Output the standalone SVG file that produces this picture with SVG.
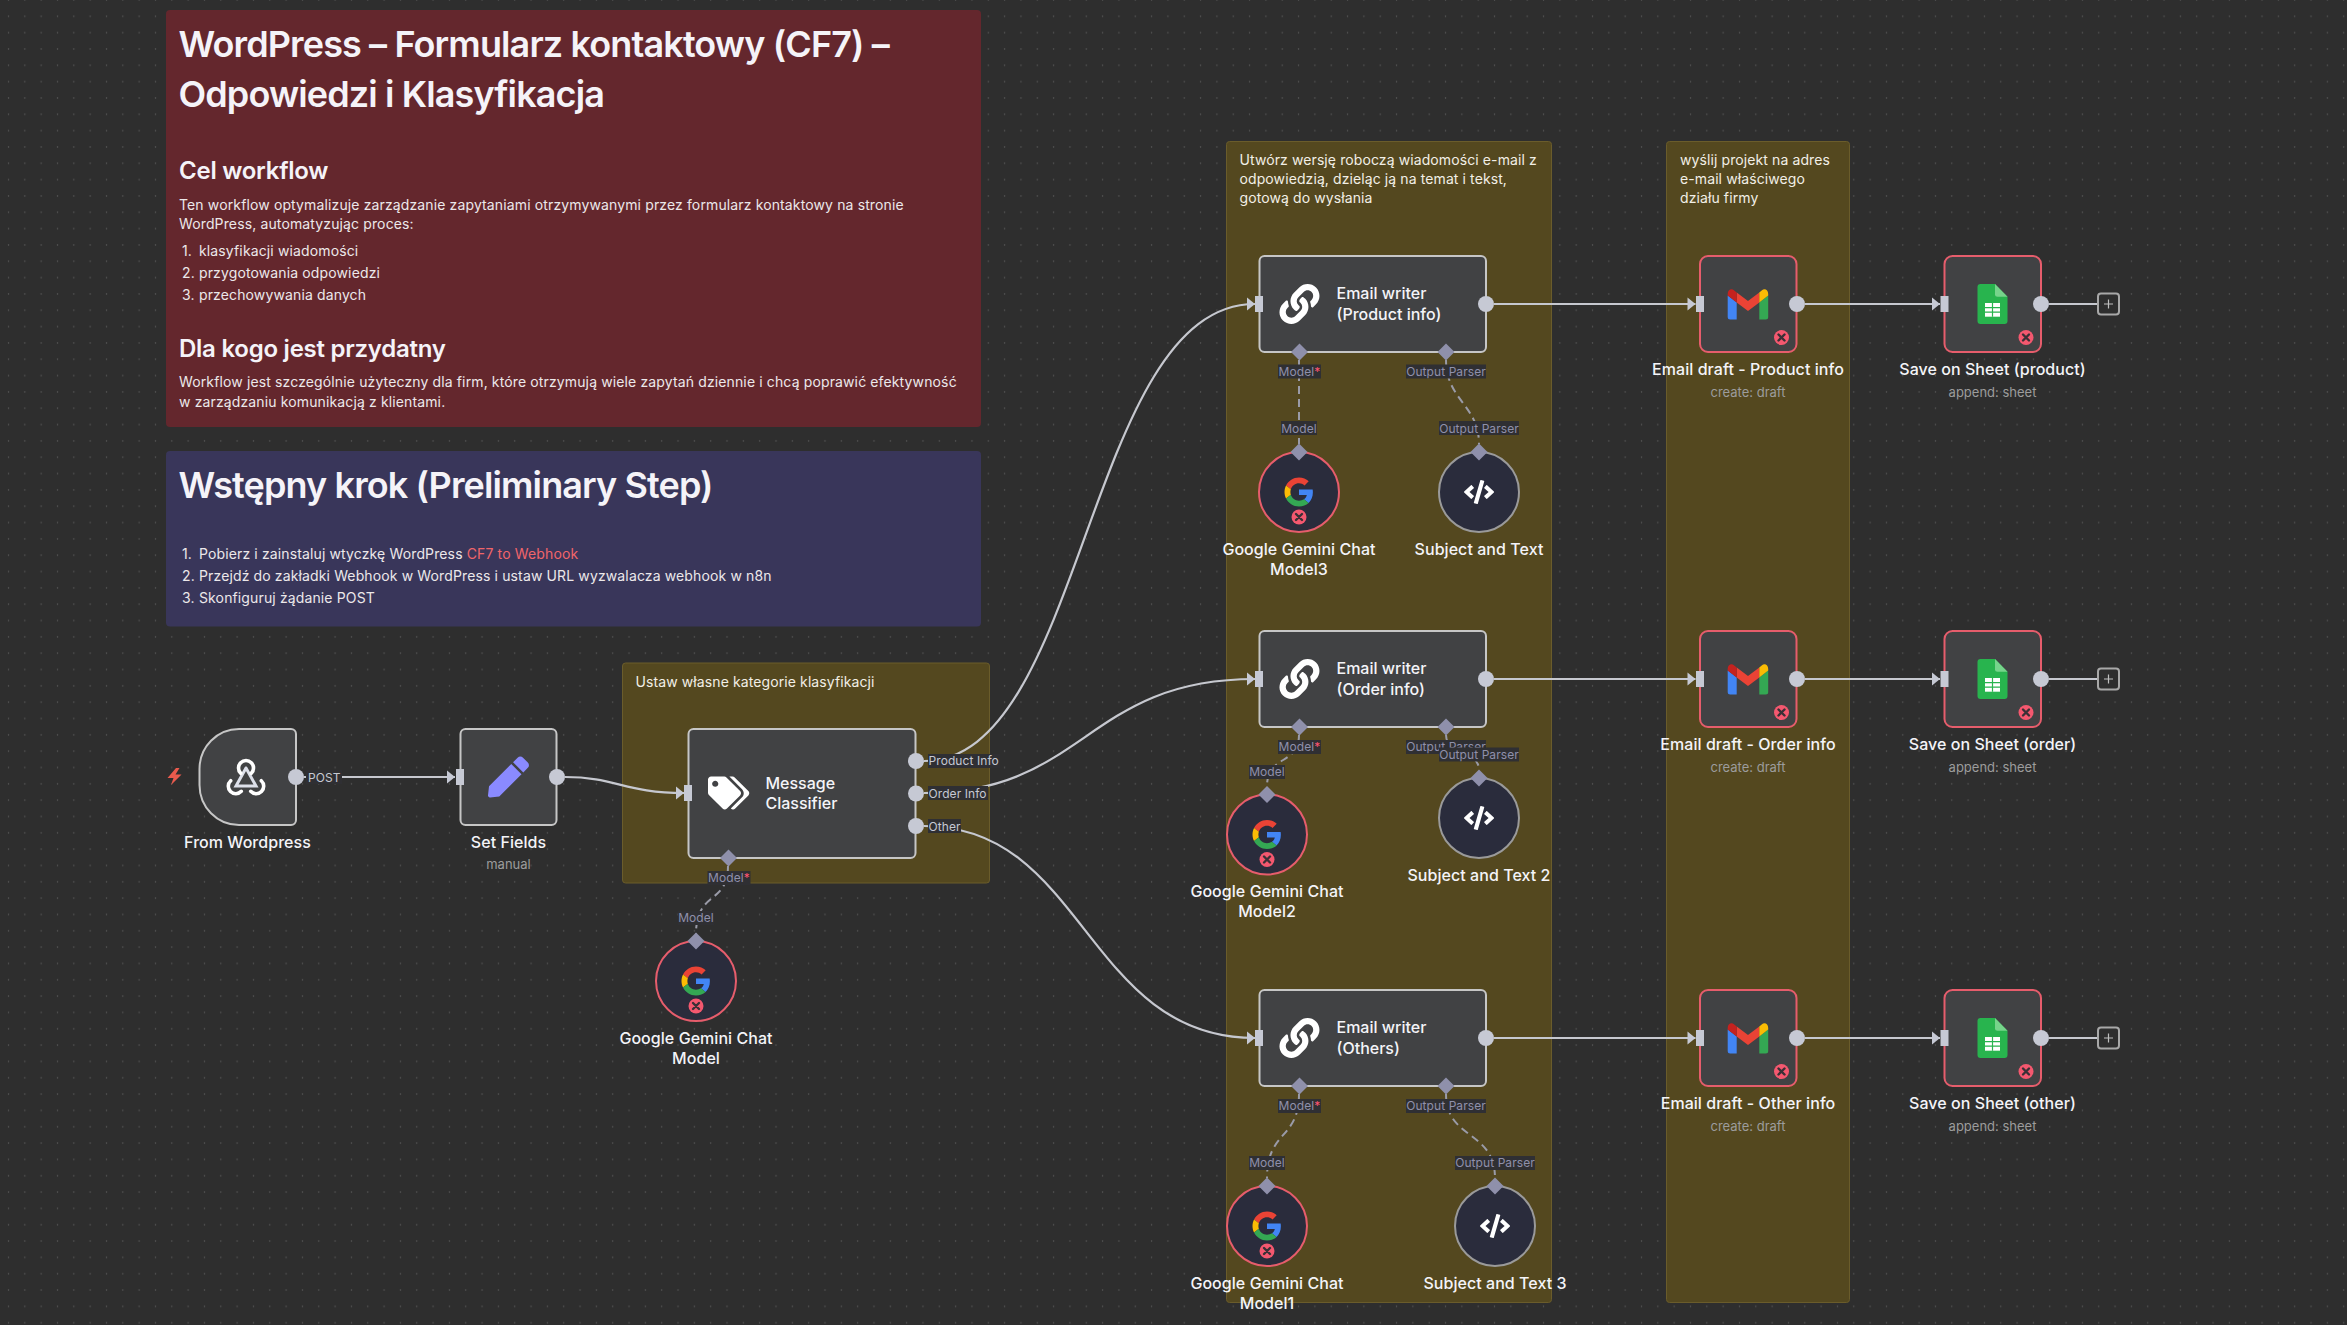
<svg xmlns="http://www.w3.org/2000/svg" width="2347" height="1325" viewBox="0 0 2347 1325">
<style>
text{font-family:"Inter","Liberation Sans",sans-serif}
.h1{font-size:36px;font-weight:600;fill:#f5f3f8;letter-spacing:-.88px}
.h2{font-size:24px;font-weight:600;fill:#f5f3f8;letter-spacing:-.25px}
.b{font-size:14px;fill:#ece8ea;letter-spacing:.13px}
.s{font-size:14px;fill:#f2efe6;letter-spacing:.1px}
.link{fill:#f0656a}
.note-red{fill:#64272d}
.note-purple{fill:#39365a}
.sticky{fill:#54481f;stroke:#6a5c2b;stroke-width:1}
.node{fill:#414244;stroke:#c6c6c6;stroke-width:2}
.node.err{stroke:#e65d6c}
.sub{fill:#2a2c3c;stroke:#9a9a9a;stroke-width:2}
.sub.err{stroke:#e65d6c}
.title{font-size:16px;font-weight:500;fill:#f4f4f8}
.nm{font-size:16px;font-weight:500;fill:#f4f4f8;text-anchor:middle;letter-spacing:.05px}
.sb{font-size:13px;fill:#9c9c9c;text-anchor:middle}
.wire{fill:none;stroke:#c6c8cf;stroke-width:2.2}
.dash{fill:none;stroke:#9a9ba8;stroke-width:2;stroke-dasharray:8 5}
.lbg{fill:#2f2f33}
.l{font-size:12px;fill:#c6c9d4;letter-spacing:.08px}
.lm{font-size:12px;fill:#8f90ab;text-anchor:middle;letter-spacing:.08px}
.red{fill:#ff5470}
.port{fill:#c6c9d4}
.dia{fill:#8f90ab}
.plus{fill:#2e2e2e;stroke:#a8a8a8;stroke-width:2}
</style>
<defs>
<pattern id="dots" width="16.33" height="16.33" patternUnits="userSpaceOnUse" x="0.3" y="0"><circle cx="8.2" cy="16.2" r="0.65" fill="#5f5f5f"/><circle cx="8.2" cy="0.1" r="0.65" fill="#5f5f5f"/></pattern>
<marker id="arrow" markerUnits="userSpaceOnUse" markerWidth="9" markerHeight="14" viewBox="0 0 9 14" refX="8.5" refY="7" orient="auto"><path d="M0.5 0.5 L8.5 7 L0.5 13.5 Z" fill="#c6c9d4"/></marker>
<rect id="in" x="-4" y="-8" width="8" height="16" class="port"/>
<circle id="out" r="8" class="port"/>
<polygon id="dm" points="0,-8.5 8.5,0 0,8.5 -8.5,0" class="dia"/>
<g id="x"><circle r="7.5" fill="#f4586f"/><path d="M-3 -3 L3 3 M3 -3 L-3 3" stroke="#3a3036" stroke-width="2.4" stroke-linecap="round"/></g>
<path id="i-link" transform="translate(-20 -20) scale(.0781)" fill="#fff" d="M326.612 185.391c59.747 59.809 58.927 155.698.36 214.59-.11.12-.24.25-.36.37l-67.2 67.2c-59.27 59.27-155.699 59.262-214.96 0-59.27-59.26-59.27-155.7 0-214.96l37.106-37.106c9.84-9.84 26.786-3.3 27.294 10.606.648 17.722 3.826 35.527 9.69 52.721 1.986 5.822.567 12.262-3.783 16.612l-13.087 13.087c-28.026 28.026-28.905 73.66-1.155 101.96 28.024 28.579 74.086 28.749 102.325.51l67.2-67.19c28.191-28.191 28.073-73.757 0-101.83-3.701-3.694-7.429-6.564-10.341-8.569a16.037 16.037 0 0 1-6.947-12.606c-.396-10.567 3.348-21.456 11.698-29.806l21.054-21.055c5.521-5.521 14.182-6.199 20.584-1.731a152.482 152.482 0 0 1 20.522 17.197zM467.547 44.449c-59.261-59.262-155.69-59.27-214.96 0l-67.2 67.2c-.12.12-.25.25-.36.37-58.566 58.892-59.387 154.781.36 214.59a152.454 152.454 0 0 0 20.521 17.196c6.402 4.468 15.064 3.789 20.584-1.731l21.054-21.055c8.35-8.35 12.094-19.239 11.698-29.806a16.037 16.037 0 0 0-6.947-12.606c-2.912-2.005-6.64-4.875-10.341-8.569-28.073-28.073-28.191-73.639 0-101.83l67.2-67.19c28.239-28.239 74.3-28.069 102.325.51 27.75 28.3 26.872 73.934-1.155 101.96l-13.087 13.087c-4.35 4.35-5.769 10.79-3.783 16.612 5.864 17.194 9.042 34.999 9.69 52.721.509 13.906 17.454 20.446 27.294 10.606l37.106-37.106c59.271-59.259 59.271-155.699.001-214.959z"/>
<g id="i-g" transform="translate(-14.5 -14.5) scale(.604)"><path fill="#EA4335" d="M24 9.5c3.54 0 6.71 1.22 9.21 3.6l6.85-6.85C35.9 2.38 30.47 0 24 0 14.62 0 6.51 5.38 2.56 13.22l7.98 6.19C12.43 13.72 17.74 9.5 24 9.5z"/><path fill="#4285F4" d="M46.98 24.55c0-1.57-.15-3.09-.38-4.55H24v9.02h12.94c-.58 2.96-2.26 5.48-4.78 7.18l7.73 6c4.51-4.18 7.09-10.36 7.09-17.65z"/><path fill="#FBBC05" d="M10.53 28.59c-.48-1.45-.76-2.99-.76-4.59s.27-3.14.76-4.59l-7.98-6.19C.92 16.46 0 20.12 0 24c0 3.88.92 7.54 2.56 10.78l7.97-6.19z"/><path fill="#34A853" d="M24 48c6.48 0 11.93-2.13 15.89-5.81l-7.73-6c-2.15 1.45-4.92 2.3-8.16 2.3-6.26 0-11.57-4.22-13.47-9.91l-7.98 6.19C6.51 42.62 14.62 48 24 48z"/></g>
<path id="i-code" transform="translate(-15 -12) scale(.047)" fill="#fff" d="M278.9 511.5l-61-17.7c-6.4-1.8-10-8.5-8.2-14.9L346.2 8.7c1.8-6.4 8.5-10.1 14.9-8.2l61 17.7c6.4 1.8 10 8.5 8.2 14.9L293.8 503.3c-1.9 6.4-8.5 10.1-14.9 8.2zm-114-112.2l43.5-46.4c4.6-4.9 4.3-12.7-.8-17.2L117 256l90.6-79.7c5.1-4.5 5.5-12.3.8-17.2l-43.5-46.4c-4.5-4.8-12.1-5.1-17-.5L3.8 247.2c-5.1 4.7-5.1 12.8 0 17.5l144.1 135.1c4.9 4.6 12.5 4.4 17-.5zm327.2.6l144.1-135.1c5.1-4.7 5.1-12.8 0-17.5L492.1 112.1c-4.8-4.5-12.4-4.3-17 .5L431.6 159c-4.6 4.9-4.3 12.7.8 17.2L523 256l-90.6 79.7c-5.1 4.5-5.5 12.3-.8 17.2l43.5 46.4c4.5 4.9 12.1 5.1 17 .6z"/>
<g id="i-gmail" transform="translate(-20.3 -15.5)"><path fill="#4285F4" d="M0 7V28.5a2.5 2.5 0 0 0 2.5 2.5H9V14Z"/><path fill="#34A853" d="M31.6 14V31H38a2.5 2.5 0 0 0 2.5-2.5V7Z"/><path fill="#EA4335" d="M9 4 20.3 12.4 31.6 4V14L20.3 22.4 9 14Z"/><path fill="#C5221F" d="M0 7 9 14V4L6.5 2C3.5 -.6 0 1.6 0 5.5Z"/><path fill="#FBBC04" d="M31.6 14 40.5 7V5.5C40.5 1.6 37 -.6 34 2L31.6 4Z"/></g>
<g id="i-sheet" transform="translate(-15 -20)"><path fill="#28B44E" d="M3 0H17.500L30 12.700V37a3 3 0 0 1-3 3H3a3 3 0 0 1-3-3V3a3 3 0 0 1 3-3Z"/><path fill="#76D48B" d="M17.500 0 30 12.700H20a2.500 2.500 0 0 1-2.500-2.500Z"/><path fill="#fff" d="M7.500 19H22.500V32.700H7.500Z"/><path stroke="#28B44E" stroke-width="1.200" d="M7.500 23.600H22.500M7.500 28.200H22.500M15 19V32.700"/></g>
</defs>

<rect width="2347" height="1325" fill="#2e2e2e"/>
<rect width="2347" height="1325" fill="url(#dots)"/>

<g id="note-main">
<rect class="note-red" x="166" y="10" width="815" height="417" rx="4"/>
<text class="h1" x="178.500" y="57">WordPress – Formularz kontaktowy (CF7) –</text>
<text class="h1" x="178.500" y="107">Odpowiedzi i Klasyfikacja</text>
<text class="h2" x="179" y="179">Cel workflow</text>
<text class="b" x="179" y="209.500">Ten workflow optymalizuje zarządzanie zapytaniami otrzymywanymi przez formularz kontaktowy na stronie</text>
<text class="b" x="179" y="229">WordPress, automatyzując proces:</text>
<text class="b" x="182" y="256">1.</text><text class="b" x="199" y="256">klasyfikacji wiadomości</text>
<text class="b" x="182" y="278">2.</text><text class="b" x="199" y="278">przygotowania odpowiedzi</text>
<text class="b" x="182" y="300">3.</text><text class="b" x="199" y="300">przechowywania danych</text>
<text class="h2" x="179" y="357">Dla kogo jest przydatny</text>
<text class="b" x="179" y="387">Workflow jest szczególnie użyteczny dla firm, które otrzymują wiele zapytań dziennie i chcą poprawić efektywność</text>
<text class="b" x="179" y="407">w zarządzaniu komunikacją z klientami.</text>
</g>
<g id="note-prelim">
<rect class="note-purple" x="166" y="451" width="815" height="175.500" rx="4"/>
<text class="h1" x="178.500" y="497.500">Wstępny krok (Preliminary Step)</text>
<text class="b" x="182" y="558.500">1.</text><text class="b" x="199" y="558.500">Pobierz i zainstaluj wtyczkę WordPress <tspan class="link">CF7 to Webhook</tspan></text>
<text class="b" x="182" y="580.500">2.</text><text class="b" x="199" y="580.500">Przejdź do zakładki Webhook w WordPress i ustaw URL wyzwalacza webhook w n8n</text>
<text class="b" x="182" y="602.500">3.</text><text class="b" x="199" y="602.500">Skonfiguruj żądanie POST</text>
</g>
<g id="sticky-classify">
<rect class="sticky" x="622.500" y="663" width="367" height="220" rx="3"/>
<text class="s" x="635.500" y="686.500">Ustaw własne kategorie klasyfikacji</text>
</g>
<g id="sticky-writer">
<rect class="sticky" x="1226.500" y="141.500" width="325" height="1161" rx="3"/>
<text class="s" x="1239.500" y="165">Utwórz wersję roboczą wiadomości e-mail z</text>
<text class="s" x="1239.500" y="184">odpowiedzią, dzieląc ją na temat i tekst,</text>
<text class="s" x="1239.500" y="203">gotową do wysłania</text>
</g>
<g id="sticky-send">
<rect class="sticky" x="1666.500" y="141.500" width="183" height="1161" rx="3"/>
<text class="s" x="1680" y="165">wyślij projekt na adres</text>
<text class="s" x="1680" y="184">e-mail właściwego</text>
<text class="s" x="1680" y="203">działu firmy</text>
</g>

<g id="connectors">
<path class="wire" marker-end="url(#arrow)" d="M304 777H455"/>
<path class="wire" marker-end="url(#arrow)" d="M565 777C616 777 625 793 684 793"/>
<path class="wire" marker-end="url(#arrow)" d="M924 761C1085 761 1086 304 1255 304"/>
<path class="wire" marker-end="url(#arrow)" d="M924 793C1085 793 1086 679 1255 679"/>
<path class="wire" marker-end="url(#arrow)" d="M924 826C1085 826 1086 1038 1255 1038"/>
<path class="wire" marker-end="url(#arrow)" d="M1494 304H1695.500"/>
<path class="wire" marker-end="url(#arrow)" d="M1494 679H1695.500"/>
<path class="wire" marker-end="url(#arrow)" d="M1494 1038H1695.500"/>
<path class="wire" marker-end="url(#arrow)" d="M1805 304H1940"/>
<path class="wire" marker-end="url(#arrow)" d="M1805 679H1940"/>
<path class="wire" marker-end="url(#arrow)" d="M1805 1038H1940"/>
<path class="wire" d="M2049 304H2098M2049 679H2098M2049 1038H2098"/>
<path class="dash" d="M728 866C728 905 696 890 696 934"/>
<path class="dash" d="M1299 360V444"/>
<path class="dash" d="M1446 360C1446 400 1479 405 1479 444"/>
<path class="dash" d="M1299 735C1299 765 1267 755 1267 786"/>
<path class="dash" d="M1446 735C1446 755 1479 750 1479 770"/>
<path class="dash" d="M1299 1094C1299 1140 1267 1130 1267 1178"/>
<path class="dash" d="M1446 1094C1446 1140 1495 1130 1495 1178"/>
<rect class="lbg" x="306" y="770" width="36" height="14"/><text class="l" x="308" y="781.500">POST</text>
<rect class="lbg" x="928" y="754" width="72" height="14"/><text class="l" x="928.500" y="765">Product Info</text>
<rect class="lbg" x="928" y="786" width="60" height="14"/><text class="l" x="928.500" y="797.500">Order Info</text>
<rect class="lbg" x="928" y="819" width="33" height="14"/><text class="l" x="928.500" y="830.500">Other</text>
<g id="labels-model">
<rect class="lbg" x="707.500" y="871" width="43" height="14"/><text class="lm" x="729" y="882">Model<tspan class="red">*</tspan></text>
<rect class="lbg" x="678" y="911" width="36" height="14"/><text class="lm" x="696" y="922">Model</text>
<rect class="lbg" x="1278" y="364.500" width="43" height="14"/><text class="lm" x="1299.500" y="375.500">Model<tspan class="red">*</tspan></text>
<rect class="lbg" x="1406" y="364.500" width="80" height="14"/><text class="lm" x="1446" y="375.500">Output Parser</text>
<rect class="lbg" x="1281" y="421" width="36" height="14"/><text class="lm" x="1299" y="432.500">Model</text>
<rect class="lbg" x="1439" y="421" width="80" height="14"/><text class="lm" x="1479" y="432.500">Output Parser</text>
<rect class="lbg" x="1278" y="740" width="43" height="14"/><text class="lm" x="1299.500" y="751">Model<tspan class="red">*</tspan></text>
<rect class="lbg" x="1406" y="740" width="80" height="14"/><text class="lm" x="1446" y="751">Output Parser</text>
<rect class="lbg" x="1249" y="765" width="36" height="14"/><text class="lm" x="1267" y="776">Model</text>
<rect class="lbg" x="1439" y="747.500" width="80" height="14"/><text class="lm" x="1479" y="758.500">Output Parser</text>
<rect class="lbg" x="1278" y="1099" width="43" height="14"/><text class="lm" x="1299.500" y="1110">Model<tspan class="red">*</tspan></text>
<rect class="lbg" x="1406" y="1099" width="80" height="14"/><text class="lm" x="1446" y="1110">Output Parser</text>
<rect class="lbg" x="1249" y="1156" width="36" height="14"/><text class="lm" x="1267" y="1167">Model</text>
<rect class="lbg" x="1455" y="1156" width="80" height="14"/><text class="lm" x="1495" y="1167">Output Parser</text>
</g>
</g>

<g id="from-wordpress">
<path class="node" d="M239 729H291a5 5 0 0 1 5 5V820a5 5 0 0 1-5 5H239C217 825 199.500 807 199.500 785V769C199.500 747 217 729 239 729Z"/>
<path fill="#ea5a4d" d="M176 768 167.500 778H173.500L171 785 181.500 774.500H175.500L179.500 768Z"/>
<g fill="none" stroke-linecap="round">
<path stroke="#dde0ea" stroke-width="3" d="M246 768 256 786H236L246 768"/>
<path stroke="#fff" stroke-width="3.600" d="M240.700 773.300A7.500 7.500 0 1 1 251.300 773.300M230.700 780.700A7.500 7.500 0 1 0 241.300 791.300M261.300 780.700A7.500 7.500 0 1 1 250.700 791.300"/>
</g>
<use href="#out" x="296" y="777"/>
<text class="nm" x="247.500" y="847.500">From Wordpress</text>
</g>
<g id="set-fields">
<rect class="node" x="460.500" y="729" width="96" height="96" rx="5"/>
<use href="#in" x="460" y="777"/>
<path transform="translate(488 756.500) scale(.08)" fill="#8a8aff" d="M290.740 93.240l128.020 128.020-277.990 277.990-114.140 12.600C11.350 513.540-1.560 500.620.14 485.340l12.700-114.220 277.900-278.080zm207.200-19.060l-60.110-60.110c-18.750-18.750-49.160-18.750-67.910 0l-56.550 56.550 128.020 128.020 56.550-56.550c18.750-18.760 18.750-49.160 0-67.910z"/>
<use href="#out" x="557" y="777"/>
<text class="nm" x="508.500" y="847.500">Set Fields</text>
<text class="sb" x="508.500" y="869">manual</text>
</g>
<g id="message-classifier">
<rect class="node" x="688.500" y="729" width="227" height="129" rx="5"/>
<use href="#in" x="688" y="793"/>
<path transform="translate(708 776.500) scale(.0645)" fill="#fff" d="M497.941 225.941L286.059 14.059A48 48 0 0 0 252.118 0H48C21.490 0 0 21.490 0 48v204.118a48 48 0 0 0 14.059 33.941l211.882 211.882c18.744 18.745 49.136 18.746 67.882 0l204.118-204.118c18.745-18.745 18.745-49.137 0-67.882zM112 160c-26.510 0-48-21.490-48-48s21.490-48 48-48 48 21.490 48 48-21.490 48-48 48zm513.941 133.823L421.823 497.941c-18.745 18.745-49.137 18.745-67.882 0l-.36-.36L527.640 323.522c16.999-16.999 26.360-39.600 26.360-63.640s-9.362-46.641-26.360-63.640L331.397 0h48.721a48 48 0 0 1 33.941 14.059l211.882 211.882c18.745 18.745 18.745 49.137 0 67.882z"/>
<text class="title" x="765.500" y="789">Message</text>
<text class="title" x="765.500" y="809">Classifier</text>
<use href="#out" x="916" y="761"/><use href="#out" x="916" y="793.500"/><use href="#out" x="916" y="826"/>
<use href="#dm" x="728.500" y="858"/>
</g>
<g id="gemini-0">
<circle class="sub err" cx="696" cy="981" r="40"/>
<use href="#i-g" x="696" y="981"/><use href="#x" x="696" y="1006"/>
<use href="#dm" x="696" y="941"/>
<text class="nm" x="696" y="1044">Google Gemini Chat</text><text class="nm" x="696" y="1064">Model</text>
</g>

<g id="writer-product">
<rect class="node" x="1259.500" y="256" width="226.500" height="96" rx="5"/>
<use href="#in" x="1259" y="304"/><use href="#i-link" x="1299.500" y="304"/>
<text class="title" x="1336.500" y="299">Email writer</text><text class="title" x="1336.500" y="320">(Product info)</text>
<use href="#out" x="1486" y="304"/><use href="#dm" x="1299.500" y="352"/><use href="#dm" x="1446" y="352"/>
</g>
<g id="gemini-3">
<circle class="sub err" cx="1299" cy="492" r="40"/>
<use href="#i-g" x="1299" y="492"/><use href="#x" x="1299" y="517"/><use href="#dm" x="1299" y="452"/>
<text class="nm" x="1299" y="555">Google Gemini Chat</text><text class="nm" x="1299" y="575">Model3</text>
</g>
<g id="subject-1">
<circle class="sub" cx="1479" cy="492" r="40"/>
<use href="#i-code" x="1479" y="492"/><use href="#dm" x="1479" y="452"/>
<text class="nm" x="1479" y="555">Subject and Text</text>
</g>
<g id="gmail-product">
<rect class="node err" x="1700" y="256" width="96.500" height="96" rx="8"/>
<use href="#in" x="1700" y="304"/><use href="#i-gmail" x="1748" y="304"/><use href="#x" x="1781.500" y="337.500"/><use href="#out" x="1797" y="304"/>
<text class="nm" x="1748" y="375">Email draft - Product info</text><text class="sb" x="1748" y="397">create: draft</text>
</g>
<g id="sheet-product">
<rect class="node err" x="1944.500" y="256" width="96.500" height="96" rx="8"/>
<use href="#in" x="1944.500" y="304"/><use href="#i-sheet" x="1992.500" y="304"/><use href="#x" x="2026" y="337.500"/><use href="#out" x="2041" y="304"/>
<text class="nm" x="1992.500" y="375">Save on Sheet (product)</text><text class="sb" x="1992.500" y="397">append: sheet</text>
</g>
<g id="add-1"><rect class="plus" x="2098" y="293.500" width="21" height="21" rx="3"/><path d="M2108.500 299.500V308.500M2104 304H2113" stroke="#c0c0c0" stroke-width="1.200"/></g>

<g id="writer-order">
<rect class="node" x="1259.500" y="631" width="226.500" height="96" rx="5"/>
<use href="#in" x="1259" y="679"/><use href="#i-link" x="1299.500" y="679"/>
<text class="title" x="1336.500" y="674">Email writer</text><text class="title" x="1336.500" y="695">(Order info)</text>
<use href="#out" x="1486" y="679"/><use href="#dm" x="1299.500" y="727"/><use href="#dm" x="1446" y="727"/>
</g>
<g id="gemini-2">
<circle class="sub err" cx="1267" cy="834.500" r="40"/>
<use href="#i-g" x="1267" y="834.500"/><use href="#x" x="1267" y="859.500"/><use href="#dm" x="1267" y="794.500"/>
<text class="nm" x="1267" y="897">Google Gemini Chat</text><text class="nm" x="1267" y="917">Model2</text>
</g>
<g id="subject-2">
<circle class="sub" cx="1479" cy="818" r="40"/>
<use href="#i-code" x="1479" y="818"/><use href="#dm" x="1479" y="778"/>
<text class="nm" x="1479" y="881">Subject and Text 2</text>
</g>
<g id="gmail-order">
<rect class="node err" x="1700" y="631" width="96.500" height="96" rx="8"/>
<use href="#in" x="1700" y="679"/><use href="#i-gmail" x="1748" y="679"/><use href="#x" x="1781.500" y="712.500"/><use href="#out" x="1797" y="679"/>
<text class="nm" x="1748" y="750">Email draft - Order info</text><text class="sb" x="1748" y="772">create: draft</text>
</g>
<g id="sheet-order">
<rect class="node err" x="1944.500" y="631" width="96.500" height="96" rx="8"/>
<use href="#in" x="1944.500" y="679"/><use href="#i-sheet" x="1992.500" y="679"/><use href="#x" x="2026" y="712.500"/><use href="#out" x="2041" y="679"/>
<text class="nm" x="1992.500" y="750">Save on Sheet (order)</text><text class="sb" x="1992.500" y="772">append: sheet</text>
</g>
<g id="add-2"><rect class="plus" x="2098" y="668.500" width="21" height="21" rx="3"/><path d="M2108.500 674.500V683.500M2104 679H2113" stroke="#c0c0c0" stroke-width="1.200"/></g>

<g id="writer-others">
<rect class="node" x="1259.500" y="990" width="226.500" height="96" rx="5"/>
<use href="#in" x="1259" y="1038"/><use href="#i-link" x="1299.500" y="1038"/>
<text class="title" x="1336.500" y="1033">Email writer</text><text class="title" x="1336.500" y="1054">(Others)</text>
<use href="#out" x="1486" y="1038"/><use href="#dm" x="1299.500" y="1086"/><use href="#dm" x="1446" y="1086"/>
</g>
<g id="gemini-1">
<circle class="sub err" cx="1267" cy="1226" r="40"/>
<use href="#i-g" x="1267" y="1226"/><use href="#x" x="1267" y="1251"/><use href="#dm" x="1267" y="1186"/>
<text class="nm" x="1267" y="1289">Google Gemini Chat</text><text class="nm" x="1267" y="1309">Model1</text>
</g>
<g id="subject-3">
<circle class="sub" cx="1495" cy="1226" r="40"/>
<use href="#i-code" x="1495" y="1226"/><use href="#dm" x="1495" y="1186"/>
<text class="nm" x="1495" y="1289">Subject and Text 3</text>
</g>
<g id="gmail-other">
<rect class="node err" x="1700" y="990" width="96.500" height="96" rx="8"/>
<use href="#in" x="1700" y="1038"/><use href="#i-gmail" x="1748" y="1038"/><use href="#x" x="1781.500" y="1071.500"/><use href="#out" x="1797" y="1038"/>
<text class="nm" x="1748" y="1109">Email draft - Other info</text><text class="sb" x="1748" y="1131">create: draft</text>
</g>
<g id="sheet-other">
<rect class="node err" x="1944.500" y="990" width="96.500" height="96" rx="8"/>
<use href="#in" x="1944.500" y="1038"/><use href="#i-sheet" x="1992.500" y="1038"/><use href="#x" x="2026" y="1071.500"/><use href="#out" x="2041" y="1038"/>
<text class="nm" x="1992.500" y="1109">Save on Sheet (other)</text><text class="sb" x="1992.500" y="1131">append: sheet</text>
</g>
<g id="add-3"><rect class="plus" x="2098" y="1027.500" width="21" height="21" rx="3"/><path d="M2108.500 1033.500V1042.500M2104 1038H2113" stroke="#c0c0c0" stroke-width="1.200"/></g>
</svg>
